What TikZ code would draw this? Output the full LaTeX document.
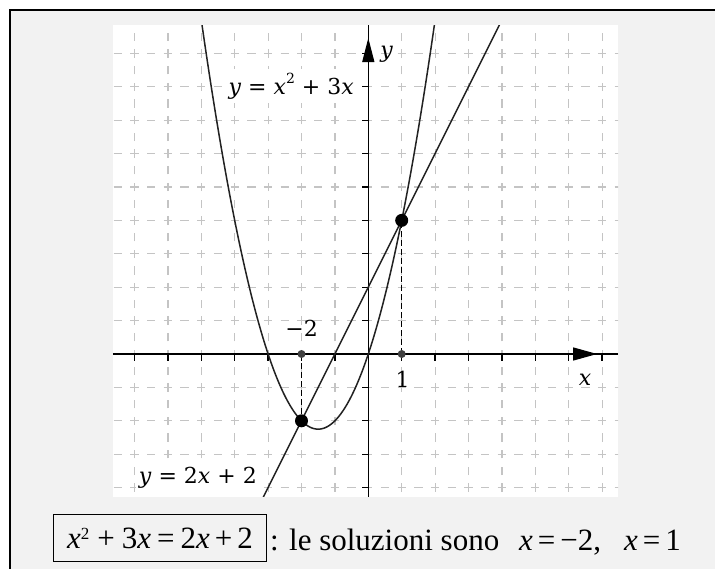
\documentclass[tikz,border=0pt]{standalone}
\usepackage{fontspec}
\setmainfont{Liberation Serif}
\newfontfamily\glabfont{DejaVu Serif}
\usetikzlibrary{arrows.meta}
\definecolor{bggray}{HTML}{F2F2F2}
\definecolor{gridgray}{HTML}{C4C4C4}
\definecolor{curvecol}{HTML}{222222}
\definecolor{dotgray}{HTML}{404040}
\newcommand\glab{\glabfont\fontsize{22}{26}\selectfont}
\newcommand\btxt{\fontsize{31}{36}\selectfont}
\begin{document}
\begin{tikzpicture}[x=1pt,y=-1pt,
  gridline/.style={gridgray, line width=1.2pt, dash pattern=on 8.35pt off 8.35pt, dash phase=4.175pt},
  curve/.style={curvecol, line width=1.5pt},
  axis/.style={black, line width=1.3pt},
  drop/.style={black, line width=1.2pt, dash pattern=on 6pt off 3pt},
  bigdot/.style={circle, fill=black, inner sep=0pt, minimum size=13pt},
  smalldot/.style={circle, fill=dotgray, inner sep=0pt, minimum size=8pt},
  flabel/.style={fill=white, inner xsep=3pt, inner ysep=4pt, font=\glab},
  alabel/.style={font=\glab, inner sep=0pt},
  btext/.style={font=\btxt, inner sep=0pt}]

\useasboundingbox (0,0) rectangle (715,569);
\fill[white] (0,0) rectangle (715,569);
\fill[bggray] (10,10) rectangle (715,569);
\draw[line width=2.5pt] (10,575) -- (10,10) -- (720,10);
\fill[white] (113,25) rectangle (618,497);

% grid
\begin{scope}[shift={(368.3,354)}, x=33.4pt, y=33.4pt]
  \clip (-7.65,-4.28) rectangle (7.48,9.85);
  \foreach \i in {-8,...,8} \draw[gridline] (\i,-5) -- (\i,10);
  \foreach \j in {-5,...,10} \draw[gridline] (-8,\j) -- (8,\j);
\end{scope}

% curve labels (white background over grid)
\node[flabel, anchor=base east] (lpar) at (357,94.5)
  {\textit{y} = \textit{x}\raisebox{11pt}{\glabfont\fontsize{14}{14}\selectfont 2} + 3\textit{x}};
\node[flabel, anchor=base east] (llin) at (260,483.3)
  {\textit{y} = 2\textit{x} + 2};

\begin{scope}[shift={(368.3,354)}, x=33.4pt, y=33.4pt]
  \coordinate (xl) at (-7.65,0);
  \coordinate (xr) at (7.48,0);
  \coordinate (yb) at (0,-4.28);
  \coordinate (yt) at (0,9.85);
  \coordinate (xab) at (6.1,0);
  \coordinate (xat) at (6.85,0);
  \coordinate (yab) at (0,8.7);
  \coordinate (yat) at (0,9.46);
  \coordinate (A) at (-2,-2);
  \coordinate (B) at (1,4);
  \coordinate (A0) at (-2,0);
  \coordinate (B0) at (1,0);
  % axes
  \draw[axis] (xl) -- (xr);
  \draw[axis] (yb) -- (yt);
  \foreach \i in {-7,...,-1,1,2,...,7} \draw[axis] (\i,0) -- ++(0pt,-7pt);
  \foreach \j in {-4,...,-1,1,2,...,9} \draw[axis] (0,\j) -- ++(-6pt,0pt);
  \draw[axis, -{Triangle[length=24pt,width=13pt]}] (xab) -- (xat);
  \draw[axis, -{Triangle[length=24pt,width=12pt]}] (yab) -- (yat);
  % curves
  \begin{scope}
    \clip (-7.65,-4.28) rectangle (7.48,9.85);
    \draw[curve, domain=-5.05:2.05, samples=200, smooth] plot (\x, {\x*\x+3*\x});
    \draw[curve] (-3.2,-4.4) -- (4,10);
  \end{scope}
  % drop lines and points
  \draw[drop] (A0) -- (A);
  \draw[drop] (B0) -- (B);
  \node[smalldot] (PA0) at (A0) {};
  \node[smalldot] (PB0) at (B0) {};
  \node[bigdot] (PA) at (A) {};
  \node[bigdot] (PB) at (B) {};
\end{scope}

% axis labels
\node[alabel, anchor=base] (lm2) at (301.7,337) {−2};
\node[alabel, anchor=base] (l1) at (402.5,388) {1};
\node[alabel, anchor=base] (lx) at (585,385) {\textit{x}};
\node[alabel, anchor=base] (ly) at (386.7,58) {\textit{y}};

% bottom text
\node[draw, line width=1.2pt, minimum width=213pt, minimum height=47pt, inner sep=0pt, font=\btxt] (eq) at (160,538.3)
  {\textit{x}\raisebox{8.5pt}{\fontsize{17}{17}\selectfont 2}\hspace{8pt}+\hspace{7pt}3\textit{x}\hspace{6pt}=\hspace{6pt}2\textit{x}\hspace{5pt}+\hspace{5pt}2};
\node[btext, anchor=base west] (sol) at (270,550) {: le soluzioni sono};
\node[btext, anchor=base west] (s1) at (519,550) {\textit{x}\hspace{5pt}=\hspace{5pt}−2,};
\node[btext, anchor=base west] (s2) at (624,550) {\textit{x}\hspace{5pt}=\hspace{5pt}1};
\end{tikzpicture}
\end{document}
